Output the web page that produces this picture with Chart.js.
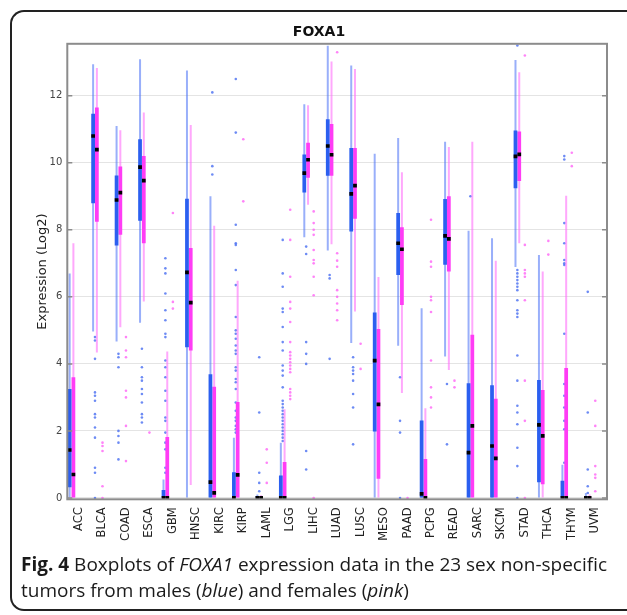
<!DOCTYPE html>
<html>
<head>
<meta charset="utf-8">
<script src="https://cdn.jsdelivr.net/npm/chart.js@4.4.1/dist/chart.umd.min.js"></script>
<style>
  body { margin: 0; background: #fff; width: 627px; height: 615px; overflow: hidden; position: relative; font-family: "Open Sans", sans-serif; }
  #frame { position: absolute; left: 10px; top: 10px; width: 640px; height: 597px; border: 2px solid #222; border-right: none; border-radius: 14px 0 0 14px; }
  #wrap { position: absolute; left: 0; top: 0; width: 627px; height: 560px; }
  #caption { position: absolute; left: 21px; top: 551px; font-size: 19px; line-height: 26px; color: #1a1a1a; white-space: nowrap; }
</style>
</head>
<body>
<div id="frame"></div>
<div id="wrap"><canvas id="boxChart" width="627" height="560"></canvas></div>
<div id="caption"><b>Fig. 4</b> Boxplots of <i>FOXA1</i> expression data in the 23 sex non-specific<br>tumors from males (<i>blue</i>) and females (<i>pink</i>)</div>

<script>
const tumors = ['ACC','BLCA','COAD','ESCA','GBM','HNSC','KIRC','KIRP','LAML','LGG','LIHC','LUAD',
                'LUSC','MESO','PAAD','PCPG','READ','SARC','SKCM','STAD','THCA','THYM','UVM'];
const yTicks = [0, 2, 4, 6, 8, 10, 12];

// males (blue)
const maleLow    = [0, 4.97, 4.67, 5.23, 0, 0, 0, 0, 0, 0, 7.78, 7.38, 4.62, 0, 4.54, 0, 4.22, 0, 0, 6.89, 0, 0, 0];
const maleQ1     = [0.32, 8.79, 7.53, 8.27, 0, 4.5, 0, 0, 0, 0, 9.11, 9.61, 7.95, 1.98, 6.65, 0, 6.96, 0, 0, 9.24, 0.47, 0, 0];
const maleMedian = [1.43, 10.8, 8.89, 9.87, 0, 6.73, 0.47, 0, 0, 0, 9.69, 10.5, 9.07, 4.1, 7.6, 0.12, 7.82, 1.35, 1.55, 10.19, 2.18, 0, 0];
const maleQ3     = [3.25, 11.46, 9.62, 10.7, 0.24, 8.93, 3.69, 0.77, 0.05, 0.67, 10.25, 11.3, 10.44, 5.53, 8.5, 2.31, 8.92, 3.42, 3.36, 10.96, 3.52, 0.51, 0.05];
const maleHigh   = [6.7, 12.94, 11.1, 13.09, 0.55, 12.75, 9.0, 1.8, 0.1, 1.65, 11.75, 13.49, 12.9, 10.27, 10.74, 5.66, 10.63, 7.97, 7.75, 13.07, 7.25, 0.99, 0.15];
const maleOutliers = [
  [], [4.8,4.7,4.15,3.15,3.05,2.9,2.5,2.4,2.1,1.8,0.9,0.75,0], [4.3,4.2,3.9,2.0,1.85,1.65,1.15],
  [4.45,3.9,3.6,3.5,3.25,3.1,2.85,2.5,2.4,2.25],
  [7.15,6.85,6.7,6.1,5.6,5.3,4.9,4.8,4.1,3.9,3.6,3.2,2.9,2.4,2.3,1.95,1.65,1.45,0.9,0.75],
  [], [12.1,9.9,9.65],
  [12.5,10.9,8.15,7.6,7.55,6.8,6.35,5.4,5.0,4.9,4.75,4.55,4.4,4.3,3.9,3.8,3.55,3.45,3.25,2.85,2.6,2.4,2.3,2.15,2.05,1.95],
  [4.2,2.55,0.75,0.45,0.2],
  [7.7,6.7,6.3,5.65,5.55,5.1,4.65,4.4,3.95,3.8,3.65,3.3,2.9,2.8,2.7,2.6,2.5,2.4,2.3,2.2,2.1,2.0,1.9,1.8,1.7],
  [7.5,7.28,4.65,4.3,4.0,1.4,0.85], [6.65,6.55,4.15], [4.2,3.9,3.8,3.7,3.5,3.1,2.7,1.6], [],
  [3.6,2.3,1.95,0], [], [3.4,1.6], [9.0], [],
  [13.5,6.8,6.7,6.6,6.5,6.4,6.3,6.2,5.9,5.6,5.5,5.4,4.25,3.5,2.75,2.55,2.2,1.5,0.95,0],
  [], [10.2,10.1,8.2,7.6,7.1,7.0,6.95,4.9,3.4,3.05,2.7,2.3,2.05,1.05], [6.15,2.55,0.85,0.35,0.15]
];

// females (pink)
const femaleLow    = [0, 4.34, 5.09, 5.86, 0, 0.39, 0, 0, 0, 0, 8.75, 7.57, 5.56, 0, 3.13, 0, 3.82, 0, 0, 7.6, 0, 0, 0];
const femaleQ1     = [0, 8.24, 7.85, 7.6, 0, 4.4, 0, 0, 0, 0, 9.55, 9.61, 8.33, 0.57, 5.76, 0, 6.76, 0, 0, 9.46, 0.41, 0, 0];
const femaleMedian = [0.7, 10.39, 9.11, 9.47, 0, 5.83, 0.15, 0.69, 0, 0, 10.09, 10.24, 9.32, 2.79, 7.42, 0, 7.73, 2.15, 1.18, 10.25, 1.85, 0, 0];
const femaleQ3     = [3.6, 11.65, 9.89, 10.2, 1.82, 7.46, 3.32, 2.86, 0.03, 1.07, 10.6, 11.16, 10.44, 5.04, 8.08, 1.16, 9.0, 4.87, 2.96, 10.93, 3.22, 3.88, 0.03];
const femaleHigh   = [7.6, 12.83, 10.97, 11.5, 4.37, 11.13, 8.12, 6.48, 0.08, 2.65, 11.72, 13.02, 12.8, 6.59, 9.72, 2.68, 10.47, 10.63, 7.08, 12.7, 6.76, 9.02, 0.1];
const femaleOutliers = [
  [], [1.65,1.55,1.4,0.35,0], [4.8,4.4,4.2,3.2,3.0,2.15,1.1], [1.95], [8.5,5.85,5.65], [], [],
  [10.7,8.85], [1.45,1.05,0.45],
  [8.6,7.7,6.6,5.85,5.65,5.25,4.65,4.35,4.25,4.15,4.05,3.95,3.85,3.75,3.25,3.15,3.05,2.95],
  [8.55,8.2,8.0,7.85,7.4,7.1,7.0,6.6,6.05,0], [13.3,7.3,7.08,6.9,6.2,6.0,5.8,5.6,5.3], [4.6,3.85], [],
  [0], [8.3,7.05,6.9,6.0,5.9,5.55,4.1,3.3,3.0,2.7], [3.5,3.3], [], [],
  [13.2,7.55,6.8,6.7,6.6,5.9,3.5,2.3,0], [7.67,7.26], [10.3,9.9], [2.9,2.15,0.95,0.7,0.6,0.2]
];

const BLUE = '#2b5ff0', BLUE_LIGHT = 'rgba(70,110,245,0.55)', BLUE_DOT = 'rgba(60,100,240,0.75)';
const PINK = '#ff3cf5', PINK_LIGHT = 'rgba(255,110,250,0.6)', PINK_DOT = 'rgba(255,90,245,0.75)';
const SHIFT_M = -0.32, SHIFT_F = 0;   // box offset inside a category, in category units

function ranges(lo, hi) { return lo.map((v, i) => [v, hi[i]]); }
function medianBars(med) { return med.map(v => [v - 0.055, v + 0.055]); }
function points(out, shift) {
  const pts = [];
  out.forEach((arr, i) => arr.forEach(v => pts.push({ x: i + 1 + shift, y: v })));
  return pts;
}

function group(label, stack, lo, q1, med, q3, hi, out, shift, dark, light, dot) {
  return [
    { type: 'bar', label: label + ' median', stack, order: 0, data: medianBars(med),
      backgroundColor: '#000', maxBarThickness: 7, barPercentage: 1 },
    { type: 'bar', label: label + ' box', stack, order: 1, data: ranges(q1, q3),
      backgroundColor: dark, maxBarThickness: 5, barPercentage: 1 },
    { type: 'bar', label: label + ' whisker', stack, order: 2, data: ranges(lo, hi),
      backgroundColor: light, maxBarThickness: 2, barPercentage: 1 },
    { type: 'scatter', label: label + ' outliers', order: 3, xAxisID: 'x2', data: points(out, shift),
      pointRadius: 1.3, pointBackgroundColor: dot, pointBorderWidth: 0, showLine: false }
  ];
}

const datasets = [
  ...group('Males', 'm', maleLow, maleQ1, maleMedian, maleQ3, maleHigh, maleOutliers, SHIFT_M, BLUE, BLUE_LIGHT, BLUE_DOT),
  ...group('Females', 'f', femaleLow, femaleQ1, femaleMedian, femaleQ3, femaleHigh, femaleOutliers, SHIFT_F, PINK, PINK_LIGHT, PINK_DOT),
  // empty third slot so the blue/pink pair sits left of the tick
  { type: 'bar', label: 'spacer', stack: 'z', order: 5, data: tumors.map(() => null) }
];

// grey frame with inward tick marks on both sides
const framePlugin = {
  id: 'frame',
  afterDraw(chart) {
    const { ctx, chartArea: a, scales } = chart;
    ctx.save();
    ctx.strokeStyle = '#8c8c8c';
    ctx.lineWidth = 2;
    ctx.strokeRect(a.left, a.top, a.right - a.left, a.bottom - a.top);
    ctx.lineWidth = 1.5;
    yTicks.forEach(t => {
      const py = scales.y.getPixelForValue(t);
      ctx.beginPath();
      ctx.moveTo(a.left, py); ctx.lineTo(a.left + 5, py);
      ctx.moveTo(a.right, py); ctx.lineTo(a.right - 5, py);
      ctx.stroke();
    });
    ctx.restore();
  }
};

Chart.defaults.font.family = '"DejaVu Sans", sans-serif';

new Chart(document.getElementById('boxChart'), {
  type: 'bar',
  data: { labels: tumors, datasets },
  options: {
    responsive: false,
    animation: false,
    categoryPercentage: 0.96,
    layout: { padding: { left: 31, right: 20, top: 10, bottom: 0 } },
    plugins: {
      legend: { display: false },
      tooltip: { enabled: false },
      title: { display: true, text: 'FOXA1', color: '#111', font: { size: 14, weight: 'bold' }, padding: { top: 14, bottom: 3 } }
    },
    scales: {
      x: {
        offset: true,
        grid: { display: false, drawTicks: false },
        border: { display: false },
        ticks: { minRotation: 90, maxRotation: 90, color: '#222', font: { size: 11.5 }, padding: 8 },
        afterFit(s) { s.height = 60.7; }
      },
      x2: { type: 'linear', axis: 'x', display: false, offset: false, grid: { offset: false }, min: 0.5, max: 23.5 },
      y: {
        stacked: false,
        min: -0.04, max: 13.55,
        grid: { color: '#e4e4e4', drawTicks: false },
        border: { display: false },
        ticks: { stepSize: 2, includeBounds: false, color: '#444', font: { size: 10 }, padding: 5 },
        title: { display: true, text: 'Expression (Log2)', color: '#222', font: { size: 13 } },
        afterFit(s) { s.width = 36.3; }
      }
    }
  },
  plugins: [framePlugin]
});
</script>
</body>
</html>
